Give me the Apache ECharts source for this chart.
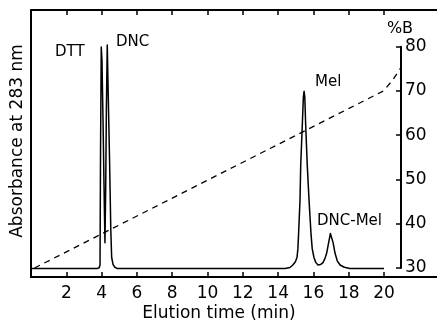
<!DOCTYPE html>
<html>
<head>
<meta charset="utf-8">
<script src="https://cdn.jsdelivr.net/npm/echarts@6/dist/echarts.min.js"></script>
<style>html,body{margin:0;padding:0;background:#fff;}#c{width:437px;height:324px;}</style>
</head>
<body>
<div id="c"></div>
<script>
// Absorbance trace (arbitrary units, DTT peak = 1)
var absTime = [0, 3.74, 3.86, 3.91, 3.94, 3.98, 4.02, 4.08, 4.14, 4.19, 4.23, 4.27, 4.32, 4.37, 4.45, 4.52, 4.57, 4.65, 4.75, 4.9,
               14.4, 14.67, 14.83, 14.97, 15.07, 15.12, 15.16, 15.24, 15.28, 15.37, 15.43, 15.47, 15.51, 15.56, 15.65, 15.75, 15.86,
               15.93, 16.03, 16.13, 16.26, 16.4, 16.54, 16.65, 16.75, 16.88, 16.96, 17.0, 17.04, 17.12, 17.22, 17.35, 17.51, 17.75, 18.07, 20];
var absValue = [0, 0, 0.004, 0.016, 0.536, 1.0, 0.94, 0.671, 0.356, 0.117, 0.356, 0.716, 1.009, 0.806, 0.491, 0.176, 0.05, 0.018, 0.006, 0,
                0, 0.005, 0.016, 0.03, 0.05, 0.09, 0.16, 0.31, 0.467, 0.65, 0.775, 0.8, 0.775, 0.65, 0.467, 0.31, 0.16,
                0.09, 0.05, 0.028, 0.016, 0.018, 0.027, 0.045, 0.07, 0.125, 0.158, 0.166, 0.158, 0.115, 0.07, 0.035, 0.016, 0.006, 0, 0];
// Gradient (%B)
var gradTime = [0.2, 20, 20.5, 21];
var gradB = [30, 70, 72.3, 75.3];
// Tick labels
var xTicks = [2, 4, 6, 8, 10, 12, 14, 16, 18, 20];
var bTicks = [30, 40, 50, 60, 70, 80];
var peakLabels = ['DTT', 'DNC', 'Mel', 'DNC-Mel'];

var FONT = 'DejaVu Sans';
function zip(a, b) { return a.map(function (v, i) { return [v, b[i]]; }); }

var chart = echarts.init(document.getElementById('c'), null, {renderer: 'canvas'});
var axisLineStyle = {color: '#000', width: 2};
chart.setOption({
  animation: false,
  backgroundColor: '#fff',
  grid: [
    {left: 31, right: 0, top: 10, bottom: 47},
    {left: 31, right: 36, top: 46.7, bottom: 56}
  ],
  xAxis: [
    {gridIndex: 0, type: 'value', min: 0, max: 23, position: 'bottom',
     axisLine: {onZero: false, lineStyle: axisLineStyle},
     axisTick: {inside: true, length: 5, customValues: xTicks, lineStyle: {color: '#000', width: 1.5}},
     axisLabel: {customValues: xTicks, color: '#000', fontFamily: FONT, fontSize: 17, margin: 8},
     splitLine: {show: false}},
    {gridIndex: 0, type: 'value', min: 0, max: 23, position: 'top',
     axisLine: {onZero: false, lineStyle: axisLineStyle},
     axisTick: {inside: true, length: 5, customValues: xTicks, lineStyle: {color: '#000', width: 1.5}},
     axisLabel: {show: false},
     splitLine: {show: false}},
    {gridIndex: 1, type: 'value', min: 0, max: 21, show: false}
  ],
  yAxis: [
    {gridIndex: 0, type: 'value', min: -0.038, max: 1.167, position: 'left',
     axisLine: {show: true, onZero: false, lineStyle: axisLineStyle},
     axisTick: {show: false}, axisLabel: {show: false}, splitLine: {show: false}},
    {gridIndex: 1, type: 'value', min: 30, max: 80, interval: 10, position: 'right',
     axisLine: {show: true, onZero: false, lineStyle: axisLineStyle},
     axisTick: {show: true, inside: true, length: 5, lineStyle: {color: '#000', width: 1.5}},
     axisLabel: {color: '#000', fontFamily: FONT, fontSize: 17, margin: 4},
     splitLine: {show: false}}
  ],
  series: [
    {type: 'line', xAxisIndex: 0, yAxisIndex: 0, data: zip(absTime, absValue),
     showSymbol: false, smooth: false, clip: false,
     lineStyle: {color: '#000', width: 1.5, join: 'round'}},
    {type: 'line', xAxisIndex: 2, yAxisIndex: 1, data: zip(gradTime, gradB),
     showSymbol: false, clip: false,
     lineStyle: {color: '#000', width: 1.3, type: [6, 5]}}
  ],
  graphic: [
    {type: 'text', x: 18, y: 141, rotation: Math.PI / 2,
     style: {text: 'Absorbance at 283 nm', font: '17px "' + FONT + '"', fill: '#000', align: 'center', verticalAlign: 'middle'}},
    {type: 'text', x: 219, y: 314,
     style: {text: 'Elution time (min)', font: '17px "' + FONT + '"', fill: '#000', align: 'center', verticalAlign: 'middle'}},
    {type: 'text', x: 400, y: 29,
     style: {text: '%B', font: '16px "' + FONT + '"', fill: '#000', align: 'center', verticalAlign: 'middle'}},
    {type: 'text', x: 55, y: 52,
     style: {text: peakLabels[0], font: '15px "' + FONT + '"', fill: '#000', align: 'left', verticalAlign: 'middle'}},
    {type: 'text', x: 116, y: 42,
     style: {text: peakLabels[1], font: '15px "' + FONT + '"', fill: '#000', align: 'left', verticalAlign: 'middle'}},
    {type: 'text', x: 315, y: 82,
     style: {text: peakLabels[2], font: '15px "' + FONT + '"', fill: '#000', align: 'left', verticalAlign: 'middle'}},
    {type: 'text', x: 317, y: 221,
     style: {text: peakLabels[3], font: '15px "' + FONT + '"', fill: '#000', align: 'left', verticalAlign: 'middle'}}
  ]
});
</script>
</body>
</html>
